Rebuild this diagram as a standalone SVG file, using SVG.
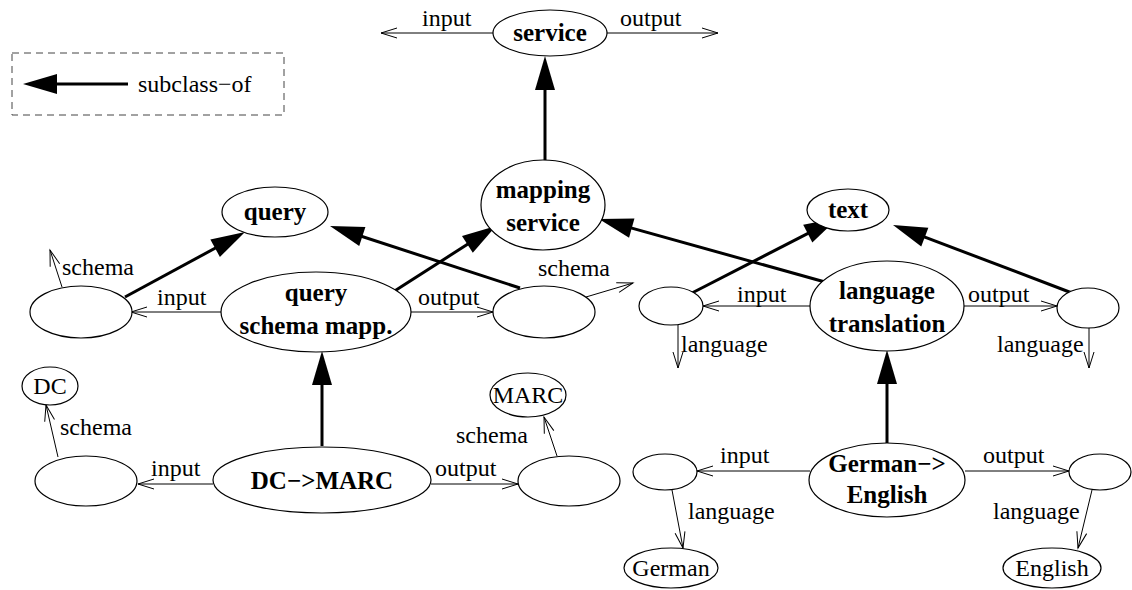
<svg xmlns="http://www.w3.org/2000/svg" width="1132" height="590" viewBox="0 0 1132 590" font-family="'Liberation Serif', 'Times New Roman', Times, serif">
<style>
  .n { fill: #fff; stroke: #000; stroke-width: 1.2; }
  .t { font-family: 'Liberation Serif', 'Times New Roman', Times, serif; font-size: 24px; fill: #000; }
  .b { font-weight: bold; font-size: 25px; text-anchor: middle; }
  .m { text-anchor: middle; }
  .thin { stroke: #000; stroke-width: 1; fill: none; marker-end: url(#open); }
  .bold { stroke: #000; stroke-width: 3; fill: none; marker-end: url(#solid); }
</style>
<defs>
  <marker id="open" markerUnits="userSpaceOnUse" markerWidth="20" markerHeight="14" refX="16" refY="7" orient="auto" overflow="visible">
    <path d="M0,2 L16,7 L0,12" fill="none" stroke="#000" stroke-width="1"/>
  </marker>
  <marker id="solid" markerUnits="userSpaceOnUse" markerWidth="36" markerHeight="22" refX="26" refY="11" orient="auto" overflow="visible">
    <path d="M0,1 L34,11 L0,21 Z" fill="#000"/>
  </marker>
</defs>
<rect width="1132" height="590" fill="#fff"/>

<g id="legend">
  <rect x="12" y="53" width="272" height="62" fill="none" stroke="#444" stroke-width="1" stroke-dasharray="7,5"/>
  <line x1="128" y1="84" x2="31" y2="84" class="bold"/>
  <text x="138" y="92" class="t">subclass−of</text>
</g>

<g id="connectors">
  <line x1="493" y1="33" x2="381" y2="33" class="thin"/>
  <line x1="607" y1="33" x2="718" y2="33" class="thin"/>
  <line x1="545" y1="160" x2="545" y2="64" class="bold"/>
  <line x1="221" y1="312" x2="131" y2="312" class="thin"/>
  <line x1="411" y1="312" x2="493" y2="312" class="thin"/>
  <line x1="62" y1="287" x2="50" y2="250" class="thin"/>
  <line x1="586" y1="297" x2="633" y2="283" class="thin"/>
  <line x1="125" y1="297" x2="238" y2="235.8" class="bold"/>
  <line x1="520" y1="288" x2="337.6" y2="228.5" class="bold"/>
  <line x1="393" y1="292" x2="489.3" y2="230.3" class="bold"/>
  <line x1="322" y1="446" x2="322" y2="359" class="bold"/>
  <line x1="811" y1="306" x2="703" y2="306" class="thin"/>
  <line x1="963" y1="306" x2="1057" y2="306" class="thin"/>
  <line x1="678" y1="325" x2="678" y2="368" class="thin"/>
  <line x1="1089" y1="327" x2="1089" y2="368" class="thin"/>
  <line x1="825" y1="282" x2="606.7" y2="221.1" class="bold"/>
  <line x1="690" y1="294" x2="830.9" y2="221.7" class="bold"/>
  <line x1="1072" y1="293" x2="900.5" y2="227.8" class="bold"/>
  <line x1="887" y1="444" x2="887" y2="358" class="bold"/>
  <line x1="213" y1="484" x2="138" y2="484" class="thin"/>
  <line x1="431" y1="484" x2="518" y2="484" class="thin"/>
  <line x1="58" y1="457" x2="46" y2="405" class="thin"/>
  <line x1="557" y1="456" x2="544" y2="417" class="thin"/>
  <line x1="810" y1="471" x2="697" y2="471" class="thin"/>
  <line x1="965" y1="471" x2="1069" y2="471" class="thin"/>
  <line x1="672" y1="490" x2="683" y2="548" class="thin"/>
  <line x1="1092" y1="490" x2="1078" y2="548" class="thin"/>
</g>

<g id="connector-labels">
  <text x="422" y="26" class="t">input</text>
  <text x="620" y="26" class="t">output</text>
  <text x="62" y="275" class="t">schema</text>
  <text x="157" y="305" class="t">input</text>
  <text x="418" y="305" class="t">output</text>
  <text x="538" y="276" class="t">schema</text>
  <text x="737" y="302" class="t">input</text>
  <text x="968" y="302" class="t">output</text>
  <text x="681" y="352" class="t">language</text>
  <text x="997" y="352" class="t">language</text>
  <text x="60" y="435" class="t">schema</text>
  <text x="456" y="443" class="t">schema</text>
  <text x="151" y="476" class="t">input</text>
  <text x="435" y="476" class="t">output</text>
  <text x="720" y="463" class="t">input</text>
  <text x="983" y="463" class="t">output</text>
  <text x="688" y="519" class="t">language</text>
  <text x="993" y="519" class="t">language</text>
</g>

<g id="service"><ellipse cx="550" cy="33" rx="57" ry="23" class="n"/><text x="550" y="41" class="t b">service</text></g>
<g id="mapping-service"><ellipse cx="543" cy="205" rx="62" ry="45" class="n"/><text x="543" y="198" class="t b">mapping</text><text x="543" y="231" class="t b">service</text></g>
<g id="query"><ellipse cx="275" cy="212" rx="53" ry="25" class="n"/><text x="275" y="220" class="t b">query</text></g>
<g id="text"><ellipse cx="848" cy="210" rx="41" ry="21" class="n"/><text x="848" y="218" class="t b">text</text></g>

<g id="query-schema-mapp"><ellipse cx="316" cy="312" rx="95" ry="40" class="n"/><text x="316" y="301" class="t b">query</text><text x="316" y="334" class="t b">schema mapp.</text></g>
<g id="qsm-input"><ellipse cx="81" cy="312" rx="51" ry="26" class="n"/></g>
<g id="qsm-output"><ellipse cx="544" cy="312" rx="51" ry="26" class="n"/></g>

<g id="language-translation"><ellipse cx="887" cy="306" rx="77" ry="45" class="n"/><text x="887" y="299" class="t b">language</text><text x="887" y="332" class="t b">translation</text></g>
<g id="lt-input"><ellipse cx="671" cy="306" rx="32" ry="19" class="n"/></g>
<g id="lt-output"><ellipse cx="1088" cy="308" rx="31" ry="20" class="n"/></g>

<g id="dc-marc"><ellipse cx="322" cy="480" rx="109" ry="33" class="n"/><text x="322" y="489" class="t b">DC−&gt;MARC</text></g>
<g id="dm-input"><ellipse cx="86" cy="481" rx="51" ry="25" class="n"/></g>
<g id="dm-output"><ellipse cx="569" cy="481" rx="51" ry="25" class="n"/></g>
<g id="dc"><ellipse cx="50" cy="386" rx="28" ry="19" class="n"/><text x="50" y="394" class="t m">DC</text></g>
<g id="marc"><ellipse cx="528" cy="395" rx="38" ry="22" class="n"/><text x="528" y="403" class="t m">MARC</text></g>

<g id="german-english"><ellipse cx="887" cy="480" rx="78" ry="37" class="n"/><text x="887" y="472" class="t b">German−&gt;</text><text x="887" y="503" class="t b">English</text></g>
<g id="ge-input"><ellipse cx="665" cy="472" rx="32" ry="18" class="n"/></g>
<g id="ge-output"><ellipse cx="1100" cy="472" rx="31" ry="18" class="n"/></g>
<g id="german"><ellipse cx="671" cy="568" rx="47" ry="20" class="n"/><text x="671" y="576" class="t m">German</text></g>
<g id="english"><ellipse cx="1052" cy="568" rx="49" ry="20" class="n"/><text x="1052" y="576" class="t m">English</text></g>
</svg>
